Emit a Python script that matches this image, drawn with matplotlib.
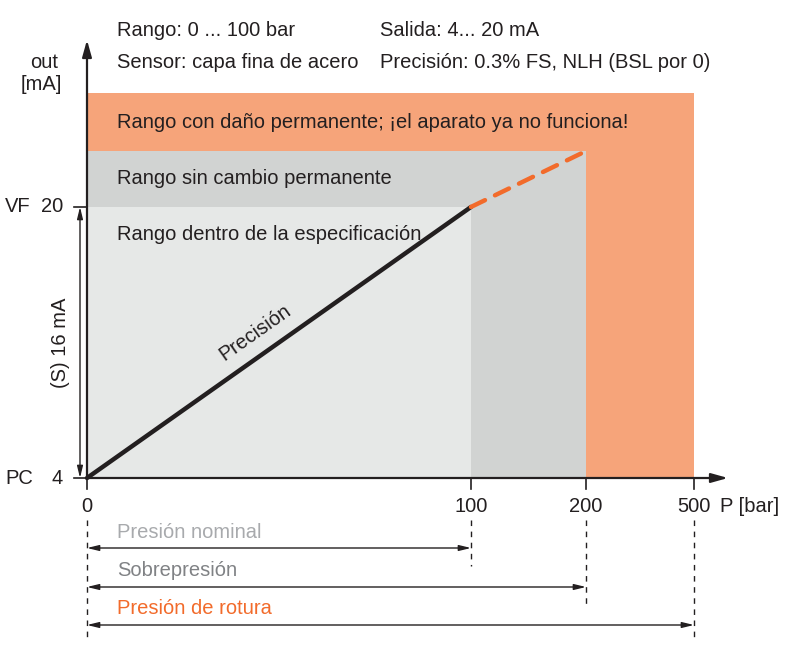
import numpy as np
import matplotlib.pyplot as plt
from matplotlib.patches import Rectangle

plt.rcParams['font.family'] = ['Liberation Sans', 'DejaVu Sans']

# data
p_ticks = [0, 100, 200, 500]
p_tick_labels = ['0', '100', '200', '500']
out_min, out_max = 4, 20          # mA
out_overload = 23.3               # end of dashed line at 200 bar
out_damage_top = 26.7             # top of the damage band
ranges = ['Presión nominal', 'Sobrepresión', 'Presión de rotura']
range_ends = [100, 200, 500]
bands = ['Rango dentro de la especificación', 'Rango sin cambio permanente',
         'Rango con daño permanente; ¡el aparato ya no funciona!']
info_left = ['Rango: 0 ... 100 bar', 'Sensor: capa fina de acero']
info_right = ['Salida: 4... 20 mA', 'Precisión: 0.3% FS, NLH (BSL por 0)']

# layout: the pressure axis is not linear, tick positions in axis units
tick_pos = [0, 1.0, 1.2995, 1.5807]
PX = 384.0      # pixels per x unit
PY = 16.94      # pixels per mA
FS = 14.5


def X(p):
    return np.interp(p, p_ticks, tick_pos)


def xp(px):
    return (px - 87) / PX


def yp(py):
    return 4 + (478 - py) / PY


dark = '#231f20'
orange = '#f26b2b'
c_band = ['#e6e8e7', '#d1d3d2', '#f6a47a']
c_range = ['#a8aaad', '#808285', orange]

fig = plt.figure(figsize=(7.89, 6.68), dpi=100)
ax = fig.add_axes([0, 0, 1, 1])
ax.set_xlim(xp(0), xp(789))
ax.set_ylim(yp(668), yp(0))
ax.axis('off')

# bands (largest first)
tops = [out_max, out_overload, out_damage_top]
for i in [2, 1, 0]:
    ax.add_patch(Rectangle((0, out_min), X(range_ends[i]), tops[i] - out_min,
                           color=c_band[i], lw=0, zorder=1))
band_text_y = [yp(234), yp(178), yp(122)]
for t, y in zip(bands, band_text_y):
    ax.text(xp(117), y, t, fontsize=FS, color=dark, va='center', ha='left', zorder=3)

# characteristic line
ax.plot([0, X(100)], [out_min, out_max], color=dark, lw=3.2,
        solid_capstyle='round', zorder=4)
ax.plot([X(100), X(200)], [out_max, out_overload], color=orange, lw=3.2,
        dashes=(3.5, 2.5), dash_capstyle='round', zorder=4)
ang = np.degrees(np.arctan2((out_max - out_min) * PY, X(100) * PX))
ax.text(xp(255), yp(333), 'Precisión', rotation=ang, fontsize=FS, color=dark,
        ha='center', va='center', rotation_mode='anchor', zorder=4)

# axes with arrows
head = 'head_length=1.0,head_width=0.28'
ax.annotate('', xy=(0, yp(40)), xytext=(0, out_min),
            arrowprops=dict(arrowstyle='-|>,' + head,
                            lw=1.6, color=dark, shrinkA=0, shrinkB=0), zorder=5)
ax.annotate('', xy=(xp(728), out_min), xytext=(0, out_min),
            arrowprops=dict(arrowstyle='-|>,' + head,
                            lw=1.6, color=dark, shrinkA=0, shrinkB=0), zorder=5)
ax.text(xp(58), yp(62), 'out', fontsize=FS, color=dark, ha='right', va='center')
ax.text(xp(62), yp(85), '[mA]', fontsize=FS, color=dark, ha='right', va='center')

# y ticks
for v, lab in zip([out_max, out_min], ['VF', 'PC']):
    ax.plot([xp(74), 0], [v, v], color=dark, lw=1.2, zorder=5)
    ax.text(xp(63), v, str(v), fontsize=FS, color=dark, ha='right', va='center')
    ax.text(xp(5), v, lab, fontsize=FS, color=dark, ha='left', va='center')
ax.annotate('', xy=(xp(80), out_max), xytext=(xp(80), out_min),
            arrowprops=dict(arrowstyle='<|-|>,head_length=0.7,head_width=0.17',
                            lw=1.0, color=dark, shrinkA=0, shrinkB=0))
ax.text(xp(60), (out_min + out_max) / 2, '(S) %d mA' % (out_max - out_min),
        rotation=90, fontsize=FS, color=dark, ha='center', va='center')

# x ticks
for p, lab in zip(p_ticks, p_tick_labels):
    ax.plot([X(p), X(p)], [out_min, yp(489)], color=dark, lw=1.2, zorder=5)
    ax.text(X(p), yp(507), lab, fontsize=FS, color=dark, ha='center', va='center')
ax.text(xp(720), yp(507), 'P [bar]', fontsize=FS, color=dark, ha='left', va='center')

# pressure ranges below the axis
arrow_y = [yp(548), yp(587), yp(625)]
dash_end = {0: yp(642), 100: yp(566), 200: yp(604), 500: yp(642)}
for p in p_ticks:
    ax.plot([X(p), X(p)], [yp(520), dash_end[p]], color=dark, lw=1.0,
            dashes=(4, 4))
for name, end, y, c in zip(ranges, range_ends, arrow_y, c_range):
    ax.annotate('', xy=(X(end), y), xytext=(0, y),
                arrowprops=dict(arrowstyle='<|-|>,head_length=0.7,head_width=0.17',
                                lw=1.0, color=dark, shrinkA=0, shrinkB=0))
    ax.text(xp(117), y + 16 / PY, name, fontsize=FS, color=c, ha='left', va='center')

# header text
for i, (l, r) in enumerate(zip(info_left, info_right)):
    y = yp(30 + 33 * i)
    ax.text(xp(117), y, l, fontsize=FS, color=dark, ha='left', va='center')
    ax.text(xp(380), y, r, fontsize=FS, color=dark, ha='left', va='center')

fig.savefig('out.png', dpi=100)
